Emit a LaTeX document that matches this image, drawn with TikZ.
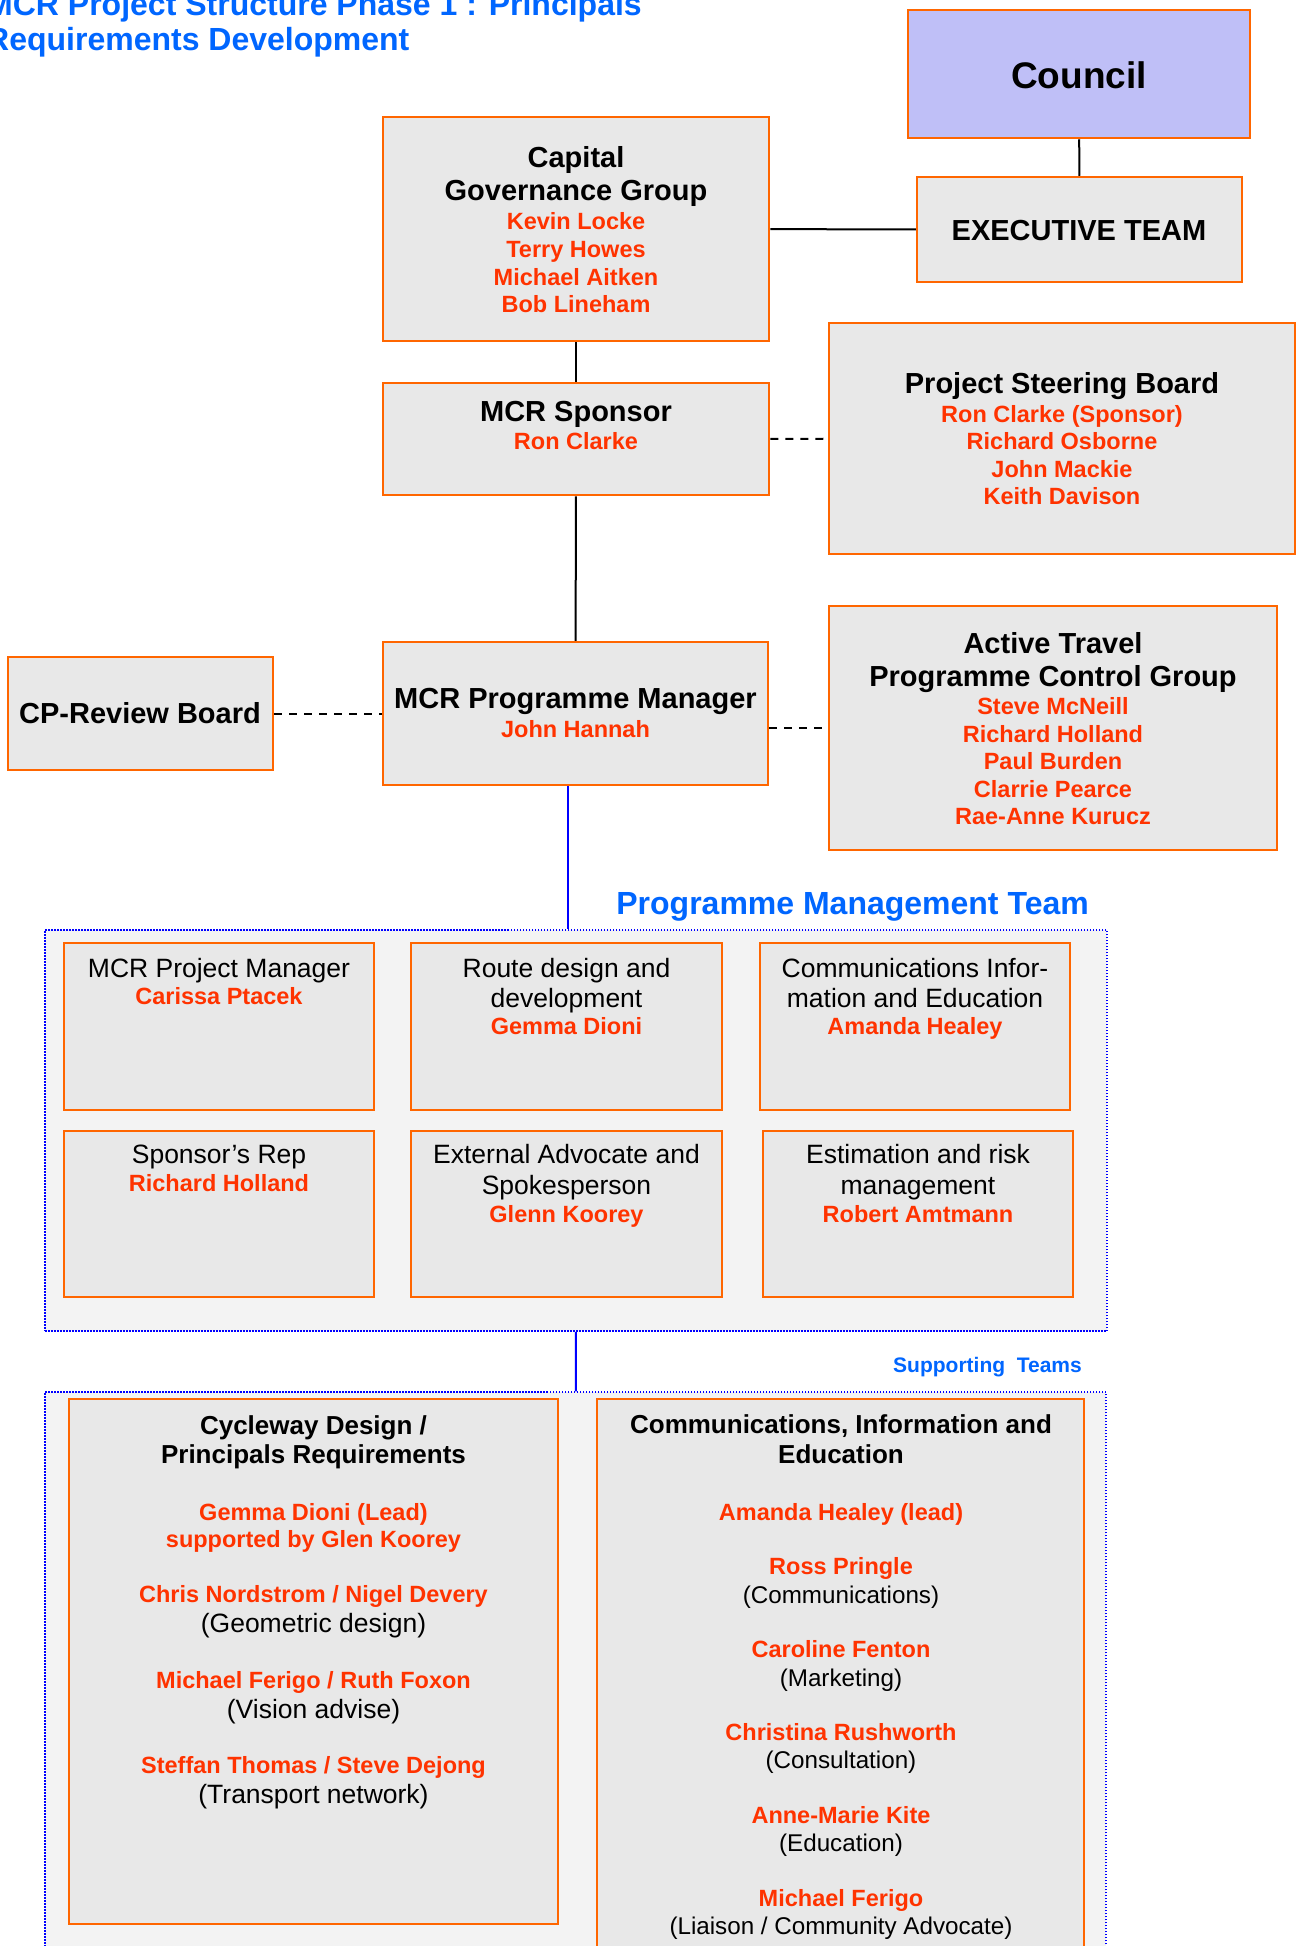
\documentclass[tikz,border=0pt]{standalone}
\usepackage{fontspec}
\setmainfont{Liberation Sans}
\usepackage{tikz}
\usetikzlibrary{fit}
\usepackage{xcolor}
\definecolor{mcrorange}{HTML}{FF6600}
\definecolor{mcrred}{HTML}{FF3300}
\definecolor{mcrblue}{HTML}{0066FF}
\definecolor{mcrgray}{HTML}{E8E8E8}
\definecolor{mcrpale}{HTML}{F3F3F3}
\definecolor{mcrlilac}{HTML}{BFBFF7}

\begin{document}
\begin{tikzpicture}[x=1pt, y=-1pt,
    orgbox/.style={draw=mcrorange, line width=2.5pt, fill=mcrgray, inner sep=0pt},
    teambox/.style={draw=blue, line width=1.5pt, dash pattern=on 1.5pt off 1.5pt, fill=mcrpale, inner sep=0pt},
    head/.style={anchor=base, inner sep=0pt, font=\fontsize{29}{35}\selectfont\bfseries},
    who/.style={anchor=base, inner sep=0pt, text=mcrred, font=\fontsize{23.5}{28}\selectfont\bfseries},
    role/.style={anchor=base, inner sep=0pt, font=\fontsize{26.5}{30}\selectfont},
    subhead/.style={anchor=base, inner sep=0pt, font=\fontsize{26}{30}\selectfont\bfseries},
    subrole/.style={anchor=base, inner sep=0pt, font=\fontsize{26.5}{30}\selectfont},
    cierole/.style={anchor=base, inner sep=0pt, font=\fontsize{24.2}{28}\selectfont},
    bluetitle/.style={inner sep=0pt, text=mcrblue, font=\fontsize{32}{36}\selectfont\bfseries},
    solidlink/.style={line width=2pt},
    dashlink/.style={line width=2pt, dash pattern=on 8pt off 7pt},
    bluelink/.style={line width=2pt, blue}]
  \useasboundingbox (0,0) rectangle (1296,1946);
  \clip (0,0) rectangle (1296,1946);
  \fill[white] (0,0) rectangle (1296,1946);

  % heading
  \node[bluetitle, anchor=base west] (title1) at (-14,15) {MCR Project Structure Phase 1 : Principals};
  \node[bluetitle, anchor=base west] (title2) at (-14,50) {Requirements Development};

  % governance
  \node[orgbox, fill=mcrlilac, fit={(908,10) (1250,138)}] (council) {};
  \node[anchor=base, inner sep=0pt, font=\fontsize{37}{40}\selectfont\bfseries] (council-t) at (1079,88) {Council};
  \node[orgbox, fit={(917,177) (1242,282)}] (exec) {};
  \node[head] (exec-t) at (1079,240) {EXECUTIVE TEAM};

  \node[orgbox, fit={(383,117) (769,341)}] (cgg) {};
  \node[head] (cgg-t1) at (576,167) {Capital};
  \node[head] (cgg-t2) at (576,200) {Governance Group};
  \node[who] (cgg-n1) at (576,229) {Kevin Locke};
  \node[who] (cgg-n2) at (576,257) {Terry Howes};
  \node[who] (cgg-n3) at (576,285) {Michael Aitken};
  \node[who] (cgg-n4) at (576,312) {Bob Lineham};

  \node[orgbox, fit={(383,383) (769,495)}] (sponsor) {};
  \node[head] (sponsor-t) at (576,421) {MCR Sponsor};
  \node[who] (sponsor-n) at (576,449) {Ron Clarke};

  \node[orgbox, fit={(829,323) (1295,554)}] (psb) {};
  \node[head] (psb-t) at (1062,393) {Project Steering Board};
  \node[who] (psb-n1) at (1062,422) {Ron Clarke (Sponsor)};
  \node[who] (psb-n2) at (1062,449.5) {Richard Osborne};
  \node[who] (psb-n3) at (1062,477) {John Mackie};
  \node[who] (psb-n4) at (1062,504.5) {Keith Davison};

  % programme level
  \node[orgbox, fit={(8,657) (273,770)}] (cprb) {};
  \node[head] (cprb-t) at (140,723) {CP-Review Board};

  \node[orgbox, fit={(383,642) (768,785)}] (pm) {};
  \node[head] (pm-t) at (575.5,708) {MCR Programme Manager};
  \node[who] (pm-n) at (575.5,737) {John Hannah};

  \node[orgbox, fit={(829,606) (1277,850)}] (atpcg) {};
  \node[head] (atpcg-t1) at (1053,653) {Active Travel};
  \node[head] (atpcg-t2) at (1053,686) {Programme Control Group};
  \node[who] (atpcg-n1) at (1053,714.5) {Steve McNeill};
  \node[who] (atpcg-n2) at (1053,742) {Richard Holland};
  \node[who] (atpcg-n3) at (1053,769.5) {Paul Burden};
  \node[who] (atpcg-n4) at (1053,797) {Clarrie Pearce};
  \node[who] (atpcg-n5) at (1053,824) {Rae-Anne Kurucz};

  % programme management team
  \node[bluetitle, anchor=base east] (pmt-t) at (1089,914) {Programme Management Team};
  \node[teambox, fit={(45,930) (1107,1331)}] (pmt) {};

  \node[orgbox, fit={(64,943) (374,1110)}] (pjm) {};
  \node[role] (pjm-r) at (219,977) {MCR Project Manager};
  \node[who] (pjm-n) at (219,1004) {Carissa Ptacek};

  \node[orgbox, fit={(411,943) (722,1110)}] (route) {};
  \node[role] (route-r1) at (566.5,977) {Route design and};
  \node[role] (route-r2) at (566.5,1007) {development};
  \node[who] (route-n) at (566.5,1034) {Gemma Dioni};

  \node[orgbox, fit={(760,943) (1070,1110)}] (comms) {};
  \node[role] (comms-r1) at (915,977) {Communications Infor-};
  \node[role] (comms-r2) at (915,1007) {mation and Education};
  \node[who] (comms-n) at (915,1034) {Amanda Healey};

  \node[orgbox, fit={(64,1131) (374,1297)}] (rep) {};
  \node[role] (rep-r) at (219,1163) {Sponsor’s Rep};
  \node[who] (rep-n) at (219,1191) {Richard Holland};

  \node[orgbox, fit={(411,1131) (722,1297)}] (advocate) {};
  \node[role] (advocate-r1) at (566.5,1163) {External Advocate and};
  \node[role] (advocate-r2) at (566.5,1194) {Spokesperson};
  \node[who] (advocate-n) at (566.5,1222) {Glenn Koorey};

  \node[orgbox, fit={(763,1131) (1073,1297)}] (risk) {};
  \node[role] (risk-r1) at (918,1163) {Estimation and risk};
  \node[role] (risk-r2) at (918,1194) {management};
  \node[who] (risk-n) at (918,1222) {Robert Amtmann};

  % supporting teams
  \node[bluetitle, anchor=base east, font=\fontsize{21}{24}\selectfont\bfseries] (sup-t) at (1082,1372) {Supporting\ \ Teams};
  \node[teambox, fit={(45,1392) (1106,1990)}] (sup) {};

  \node[orgbox, fit={(69,1399) (558,1924)}] (cyc) {};
  \node[subhead] (cyc-t1) at (313.5,1434) {Cycleway Design /};
  \node[subhead] (cyc-t2) at (313.5,1463) {Principals Requirements};
  \node[who] (cyc-n1) at (313.5,1520) {Gemma Dioni (Lead)};
  \node[who] (cyc-n2) at (313.5,1547) {supported by Glen Koorey};
  \node[who] (cyc-n3) at (313.5,1602) {Chris Nordstrom / Nigel Devery};
  \node[subrole] (cyc-r3) at (313.5,1632) {(Geometric design)};
  \node[who] (cyc-n4) at (313.5,1688) {Michael Ferigo / Ruth Foxon};
  \node[subrole] (cyc-r4) at (313.5,1718) {(Vision advise)};
  \node[who] (cyc-n5) at (313.5,1773.5) {Steffan Thomas / Steve Dejong};
  \node[subrole] (cyc-r5) at (313.5,1803) {(Transport network)};

  \node[orgbox, fit={(597,1399) (1084,1980)}] (cie) {};
  \node[subhead] (cie-t1) at (841,1433) {Communications, Information and};
  \node[subhead] (cie-t2) at (841,1463) {Education};
  \node[who] (cie-n1) at (841,1520) {Amanda Healey (lead)};
  \node[who] (cie-n2) at (841,1574) {Ross Pringle};
  \node[cierole] (cie-r2) at (841,1603) {(Communications)};
  \node[who] (cie-n3) at (841,1657) {Caroline Fenton};
  \node[cierole] (cie-r3) at (841,1686) {(Marketing)};
  \node[who] (cie-n4) at (841,1740) {Christina Rushworth};
  \node[cierole] (cie-r4) at (841,1768) {(Consultation)};
  \node[who] (cie-n5) at (841,1823) {Anne-Marie Kite};
  \node[cierole] (cie-r5) at (841,1851) {(Education)};
  \node[who] (cie-n6) at (841,1906) {Michael Ferigo};
  \node[cierole] (cie-r6) at (841,1934) {(Liaison / Community Advocate)};

  % connectors
  \draw[solidlink] (council) -- (exec);
  \draw[solidlink] (cgg) -- (exec);
  \draw[solidlink] (cgg) -- (sponsor);
  \draw[solidlink] (sponsor) -- (pm);
  \draw[dashlink] (sponsor) -- (psb);
  \draw[dashlink] (cprb) -- (pm);
  \draw[dashlink] (atpcg.west -| pm.east) -- (atpcg.west);
  \draw[bluelink] ([xshift=-8pt]pm.south) -- ([xshift=-8pt]pm.south |- pmt.north);
  \draw[bluelink] (pmt) -- (sup);
\end{tikzpicture}
\end{document}
